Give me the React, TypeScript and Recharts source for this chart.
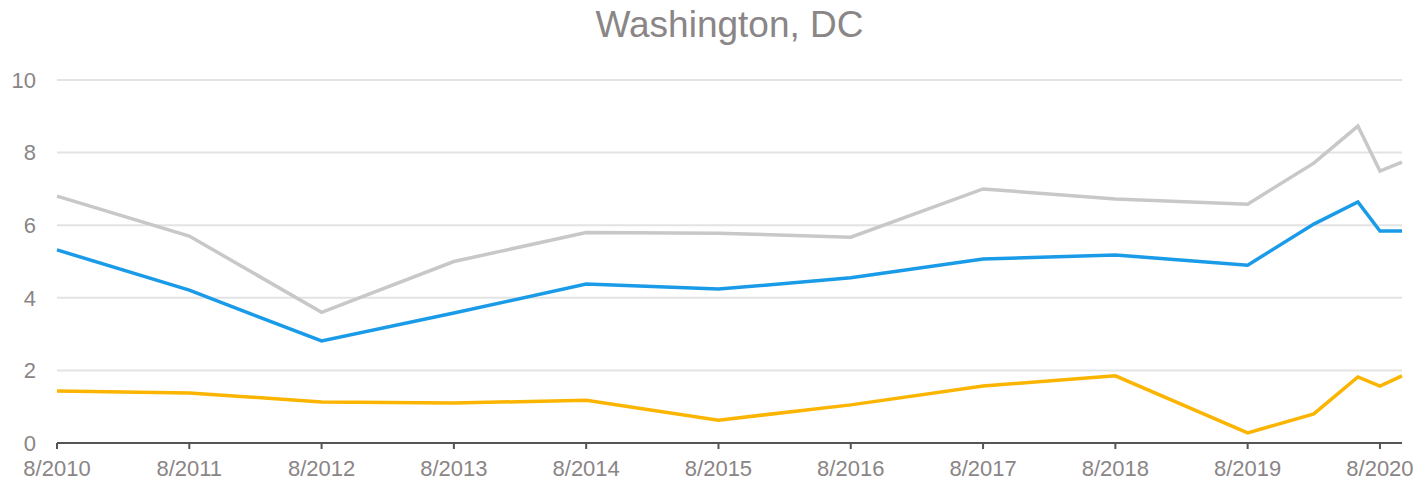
import React from "react";
import { LineChart, Line, XAxis, YAxis, CartesianGrid } from "recharts";

const months = [0, 12, 24, 36, 48, 60, 72, 84, 96, 108, 114, 118, 120, 122];
const graySeries = [6.8, 5.7, 3.6, 5.0, 5.8, 5.78, 5.67, 7.0, 6.72, 6.58, 7.71, 8.73, 7.49, 7.74];
const blueSeries = [5.32, 4.21, 2.81, 3.58, 4.38, 4.24, 4.55, 5.07, 5.18, 4.9, 6.03, 6.64, 5.84, 5.84];
const orangeSeries = [1.43, 1.38, 1.13, 1.1, 1.18, 0.63, 1.05, 1.57, 1.85, 0.28, 0.8, 1.82, 1.57, 1.85];
const xTicks = [0, 12, 24, 36, 48, 60, 72, 84, 96, 108, 120];
const yTicks = [0, 2, 4, 6, 8, 10];
const title = "Washington, DC";

const data = months.map((m, i) => ({
  m,
  gray: graySeries[i],
  blue: blueSeries[i],
  orange: orangeSeries[i],
}));

const fmtX = (v: number) => `8/${2010 + Math.round(v / 12)}`;
const font = "'Liberation Sans', Arial, sans-serif";

export default function App() {
  return (
    <div style={{ position: "absolute", left: 0, top: 0, width: 1417, height: 487, background: "#fff" }}>
      <div
        style={{
          position: "absolute",
          left: 57,
          width: 1345,
          top: 4,
          textAlign: "center",
          fontFamily: font,
          fontSize: 37,
          color: "#8a8586",
          lineHeight: "42px",
        }}
      >
        {title}
      </div>
      <LineChart width={1417} height={487} data={data} margin={{ top: 80, right: 15, left: 0, bottom: 0 }}>
        <CartesianGrid horizontal vertical={false} stroke="#e3e3e3" strokeWidth={2} />
        <XAxis
          dataKey="m"
          type="number"
          domain={[0, 122]}
          ticks={xTicks}
          tickFormatter={fmtX}
          height={44}
          tickSize={6}
          tickMargin={11}
          interval={0}
          axisLine={{ stroke: "#555", strokeWidth: 2 }}
          tickLine={{ stroke: "#555", strokeWidth: 2 }}
          tick={{ fill: "#8a8586", fontSize: 22, fontFamily: font }}
        />
        <YAxis
          type="number"
          domain={[0, 10]}
          ticks={yTicks}
          width={57}
          axisLine={false}
          tickLine={false}
          tickSize={0}
          tickMargin={21}
          interval={0}
          tick={{ fill: "#8a8586", fontSize: 22, fontFamily: font }}
        />
        <Line dataKey="gray" stroke="#c8c8c8" strokeWidth={3.5} dot={false} isAnimationActive={false} type="linear" />
        <Line dataKey="blue" stroke="#1a9be8" strokeWidth={3.5} dot={false} isAnimationActive={false} type="linear" />
        <Line dataKey="orange" stroke="#fbb400" strokeWidth={3.5} dot={false} isAnimationActive={false} type="linear" />
      </LineChart>
    </div>
  );
}
